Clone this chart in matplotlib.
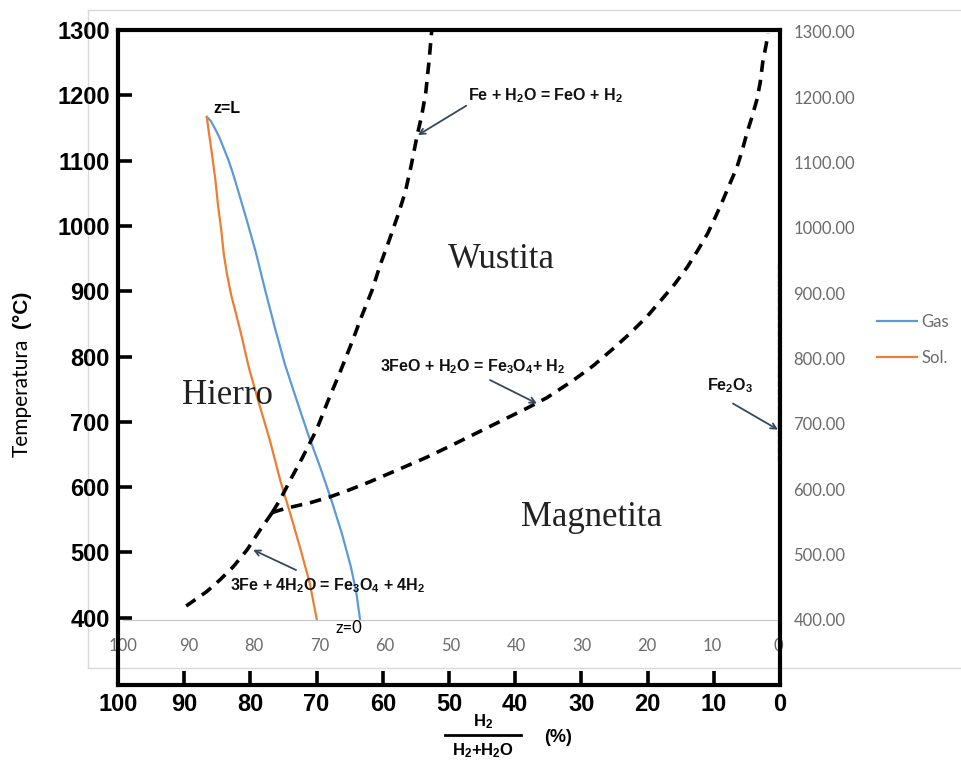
import matplotlib
matplotlib.use("Agg")
import matplotlib.pyplot as plt
from matplotlib.lines import Line2D

plt.rcParams["mathtext.default"] = "regular"

# Baur-Glaessner boundaries, x = H2/(H2+H2O) in %, y = temperature in °C
fe_feo_x = [76.7, 75.5, 73.7, 72.1, 70.0, 68.4, 66.5, 64.7, 63.1, 61.6,
            60.4, 59.0, 57.7, 56.6, 55.7, 54.8, 54.1, 53.5, 53.0, 52.6]
fe_feo_t = [561, 581, 616, 646, 688, 729, 775, 821, 864, 902,
            940, 979, 1017, 1052, 1093, 1139, 1170, 1205, 1254, 1300]

fe_fe3o4_x = [76.7, 78.5, 80.5, 82.6, 84.6, 86.6, 89.7]
fe_fe3o4_t = [561, 535, 504, 478, 458, 440, 418]

feo_fe3o4_x = [76.7, 75.5, 73.6, 71.0, 68.0, 65.0, 62.0, 57.4, 53.3, 49.4,
               45.8, 41.8, 38.2, 35.2, 31.3, 28.2, 25.2, 22.7, 20.1, 17.9,
               15.9, 14.0, 12.4, 10.9, 9.7, 8.6, 7.6, 6.5, 5.7, 5.0,
               4.2, 3.5, 3.0, 2.6, 2.1, 1.8]
feo_fe3o4_t = [561, 565, 570, 576, 585, 596, 608, 628, 646, 665,
               683, 703, 721, 737, 763, 786, 812, 835, 861, 887,
               911, 937, 963, 989, 1015, 1040, 1064, 1090, 1116, 1142,
               1168, 1193, 1219, 1251, 1277, 1295]

# reactor profiles from z=L (top) to z=0 (bottom)
gas_x = [87.2, 86.6, 86.0, 85.3, 84.7, 83.9, 83.2, 82.6, 81.1, 79.7,
         78.3, 76.8, 75.3, 73.6, 71.8, 69.9, 68.2, 66.6, 65.2, 64.4, 63.8]
gas_t = [1170, 1164, 1153, 1139, 1124, 1104, 1083, 1063, 1012, 962,
         905, 847, 792, 740, 686, 634, 584, 533, 481, 443, 400]
sol_x = [87.2, 86.9, 86.4, 85.9, 85.5, 85.0, 84.6, 84.1, 83.5, 82.7,
         82.0, 80.8, 79.4, 77.6, 76.0, 74.5, 73.0, 71.5, 70.4]
sol_t = [1170, 1147, 1112, 1074, 1035, 997, 959, 928, 898, 867,
         839, 787, 737, 676, 614, 564, 512, 457, 400]

temp_ticks = [400, 500, 600, 700, 800, 900, 1000, 1100, 1200, 1300]
pct_ticks = [100, 90, 80, 70, 60, 50, 40, 30, 20, 10, 0]

W, H = 962, 781
fig = plt.figure(figsize=(W / 100, H / 100), dpi=100)


def fx(x):
    return x / W


def fy(y):
    return 1 - y / H


grey_frame = "#d9d9d9"
xl_grey = "#6b6b6b"

# outer frame of the spreadsheet chart
fig.add_artist(Line2D([fx(88), 1], [fy(10), fy(10)], color=grey_frame, lw=1))
fig.add_artist(Line2D([fx(88), fx(88)], [fy(10), fy(668)], color=grey_frame, lw=1))
fig.add_artist(Line2D([fx(88), 1], [fy(668), fy(668)], color=grey_frame, lw=1))

# spreadsheet series axes
ax2 = fig.add_axes([fx(123), fy(620), fx(778) - fx(123), fy(32) - fy(620)], zorder=1)
ax2.set_xlim(100, 0)
ax2.set_ylim(400, 1300)
ax2.patch.set_visible(False)
for s in ["top", "left", "right"]:
    ax2.spines[s].set_visible(False)
ax2.spines["bottom"].set_color("#c8c8c8")
ax2.spines["bottom"].set_linewidth(0.9)
ax2.set_xticks(pct_ticks)
ax2.set_xticklabels([str(v) for v in pct_ticks], color=xl_grey, fontsize=12,
                    family="Lato")
ax2.tick_params(axis="x", length=0, pad=13)
ax2.yaxis.tick_right()
ax2.set_yticks(temp_ticks)
ax2.set_yticklabels([f"{v:.2f}" for v in temp_ticks], color=xl_grey,
                    fontsize=12, family="Lato")
ax2.tick_params(axis="y", length=0, pad=11)
ax2.plot(gas_x, gas_t, color="#5b9bd5", lw=1.6, label="Gas")
ax2.plot(sol_x, sol_t, color="#ed7d31", lw=1.6, label="Sol.")
leg = fig.legend(loc="center left", bbox_to_anchor=(fx(862), fy(340)),
                 frameon=False, handlelength=2.4, handletextpad=0.25,
                 labelspacing=1.2, prop={"family": "Lato", "size": 12})
for t in leg.get_texts():
    t.set_color(xl_grey)

# phase diagram axes
ax = fig.add_axes([fx(118), fy(685), fx(780) - fx(118), fy(30) - fy(685)], zorder=2)
ax.patch.set_visible(False)
ax.set_xlim(100, 0)
ax.set_ylim(297, 1300)
for s in ax.spines.values():
    s.set_linewidth(3.0)
    s.set_color("black")
ax.set_yticks(temp_ticks)
ax.set_xticks(pct_ticks)
ax.tick_params(direction="in", length=10, width=2.6, pad=6)
for lab in ax.get_xticklabels() + ax.get_yticklabels():
    lab.set_fontweight("bold")
    lab.set_fontsize(17)
    lab.set_family("Liberation Sans")

dash = dict(color="black", lw=2.6, ls=(0, (3.2, 2.2)))
ax.plot(fe_feo_x, fe_feo_t, **dash)
ax.plot(fe_fe3o4_x, fe_fe3o4_t, **dash)
ax.plot(feo_fe3o4_x, feo_fe3o4_t, **dash)
ax.plot([0.35, 0.35], [640, 945], color="#8a8a8a", lw=1.0, ls=(0, (4, 2)))

chem = dict(fontsize=11.5, fontweight="bold", ha="center", va="center",
            family="Liberation Sans", color="#111111")
arrow = dict(arrowstyle="->", color="#34495e", lw=1.3, shrinkA=0, shrinkB=0)

ax.annotate("", xy=(54.7, 1139), xytext=(47.4, 1184), arrowprops=arrow)
ax.text(35.5, 1199, "Fe + H$_2$O = FeO + H$_2$", **chem)
ax.annotate("", xy=(36.7, 728), xytext=(43.8, 764), arrowprops=arrow)
ax.text(46.4, 784, "3FeO + H$_2$O = Fe$_3$O$_4$+ H$_2$", **chem)
ax.annotate("", xy=(0.3, 688), xytext=(7.1, 728), arrowprops=arrow)
ax.text(7.6, 755, "Fe$_2$O$_3$", **chem)
ax.annotate("", xy=(79.6, 504), xytext=(73.1, 473), arrowprops=arrow)
ax.text(68.3, 449, "3Fe + 4H$_2$O = Fe$_3$O$_4$ + 4H$_2$", **chem)

serif = dict(fontsize=25, family="Liberation Serif", ha="center", va="center",
             color="#222222")
ax.text(42.1, 948, "Wustita", **serif)
ax.text(83.4, 740, "Hierro", **serif)
ax.text(28.5, 553, "Magnetita", **serif)

ax.text(85.6, 1180, "z=L", fontsize=11.5, fontweight="bold", ha="left",
        va="center", family="Liberation Sans")
ax.text(67.1, 385, "z=0", fontsize=12, ha="left", va="center",
        family="Lato")

# axis titles
fig.text(fx(22), fy(398), "Temperatura", rotation=90, ha="center", va="center",
         fontsize=15, family="Lato")
fig.text(fx(22), fy(309), "(°C)", rotation=90, ha="center", va="center",
         fontsize=15, fontweight="bold", family="Liberation Sans")
fig.text(fx(483), fy(722), "H$_2$", ha="center", va="center", fontsize=12,
         fontweight="bold", family="Liberation Sans")
fig.add_artist(Line2D([fx(445), fx(521)], [fy(735), fy(735)], color="black", lw=2))
fig.text(fx(483), fy(751), "H$_2$+H$_2$O", ha="center", va="center", fontsize=12,
         fontweight="bold", family="Liberation Sans")
fig.text(fx(558), fy(738), "(%)", ha="center", va="center", fontsize=13,
         fontweight="bold", family="Liberation Sans")

fig.savefig("out.png", dpi=100)
